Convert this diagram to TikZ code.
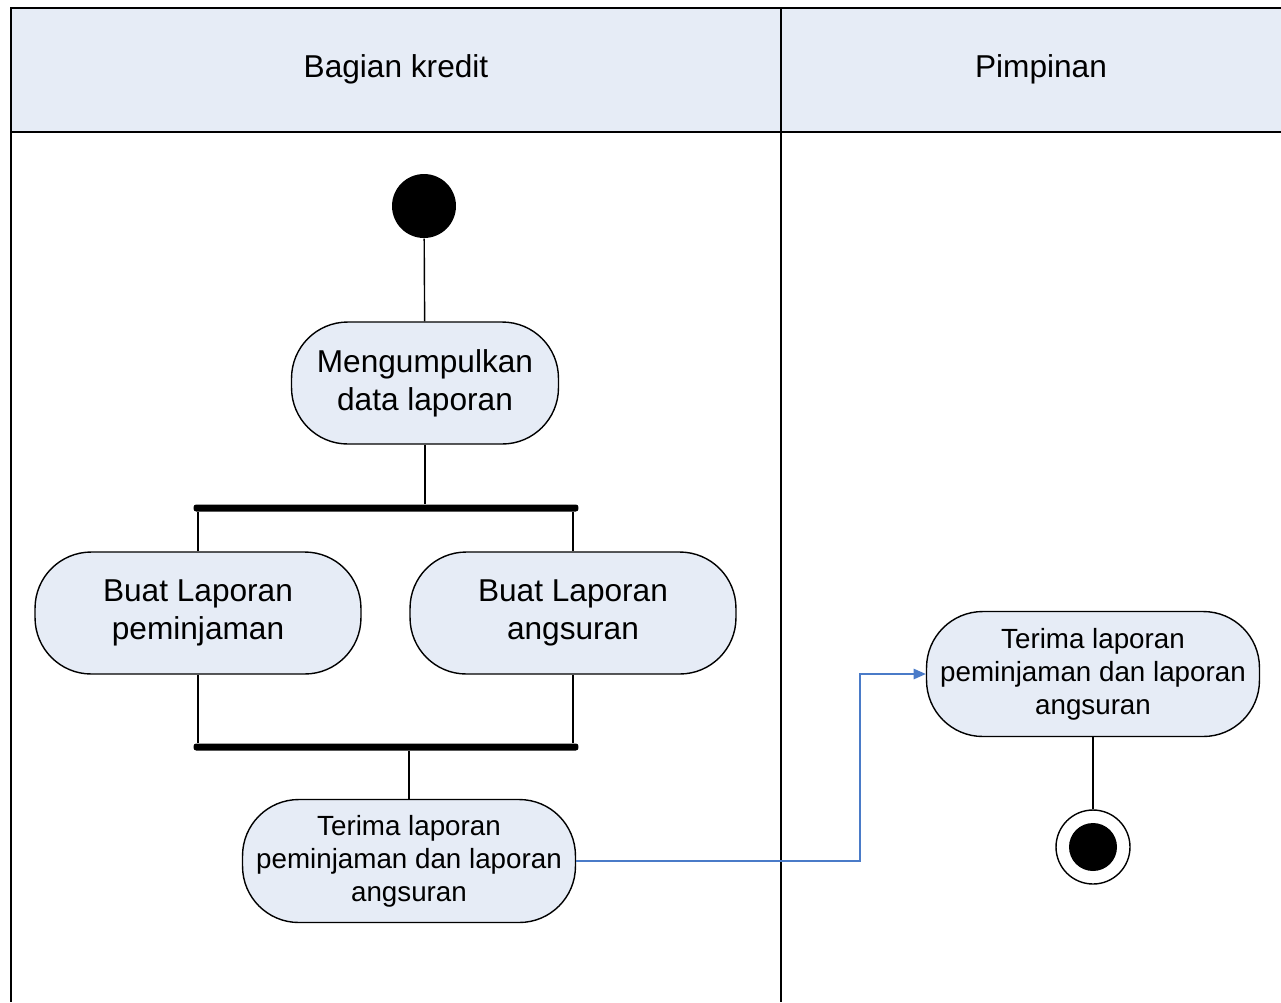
\documentclass[tikz,border=0pt]{standalone}
\usepackage{fontspec}
\setmainfont{Liberation Sans}
\usetikzlibrary{positioning, arrows.meta}
\definecolor{lanefill}{HTML}{E6ECF6}
\definecolor{flowblue}{HTML}{4A7BC8}

\begin{document}
\begin{tikzpicture}[x=0.02cm, y=-0.02cm, line width=0.8pt,
    activity/.style={rectangle, draw, fill=lanefill, rounded corners=32pt, minimum height=2.44cm, align=center, inner sep=2pt, font=\fontsize{18}{21.5}\selectfont},
    smalltext/.style={font=\fontsize{15.8}{18.7}\selectfont},
    syncbar/.style={rectangle, fill=black, rounded corners=1.5pt, minimum width=7.7cm, minimum height=0.14cm, inner sep=0pt}]
        \useasboundingbox (0,0) rectangle (1281,1002);

        % Swimlanes
        \fill[lanefill] (11,8) rectangle (1281,132);
        \draw (1281,8) -- (11,8) -- (11,1002);
        \draw (11,132) -- (1281,132);
        \draw (781,8) -- (781,1002);
        \node[font=\fontsize{18}{22}\selectfont] (kredit) at (396,69) {Bagian kredit};
        \node[font=\fontsize{18}{22}\selectfont] (pimpinan) at (1041,69) {Pimpinan};

        % Bagian kredit
        \node[circle, fill=black, minimum size=1.28cm, inner sep=0pt] (start) at (424,206) {};
        \node[activity, minimum width=5.34cm] (kumpul) at (425,383) {Mengumpulkan\\data laporan};
        \node[syncbar] (fork) at (386,508) {};
        \node[activity, minimum width=6.52cm] (pinjam) at (198,613) {Buat Laporan\\peminjaman};
        \node[activity, minimum width=6.52cm] (angsur) at (573,613) {Buat Laporan\\angsuran};
        \node[syncbar] (join) at (386,747) {};
        \node[activity, smalltext, minimum width=6.66cm, minimum height=2.46cm] (terimakredit) at (409,861) {Terima laporan\\peminjaman dan laporan\\angsuran};

        % Pimpinan
        \node[activity, smalltext, minimum width=6.66cm, minimum height=2.5cm] (terimapimpinan) at (1093,674) {Terima laporan\\peminjaman dan laporan\\angsuran};
        \node[circle, draw, fill=white, minimum size=1.48cm, inner sep=0pt] (end) at (1093,847) {};
        \node[circle, fill=black, minimum size=0.96cm, inner sep=0pt] (enddot) at (end) {};

        % Connections
        \draw (start) -- (kumpul);
        \draw (kumpul.south) -- (kumpul.south |- fork.north);
        \draw (pinjam.north |- fork.south) -- (pinjam.north);
        \draw (angsur.north |- fork.south) -- (angsur.north);
        \draw (pinjam.south) -- (pinjam.south |- join.north);
        \draw (angsur.south) -- (angsur.south |- join.north);
        \draw (terimakredit.north |- join.south) -- (terimakredit.north);
        \coordinate (bend) at (860,674);
        \draw[flowblue, -{Triangle[length=7pt, width=6pt]}] (terimakredit.east) -| (bend) -- (terimapimpinan.west);
        \draw (terimapimpinan) -- (end);
    \end{tikzpicture}
\end{document}
